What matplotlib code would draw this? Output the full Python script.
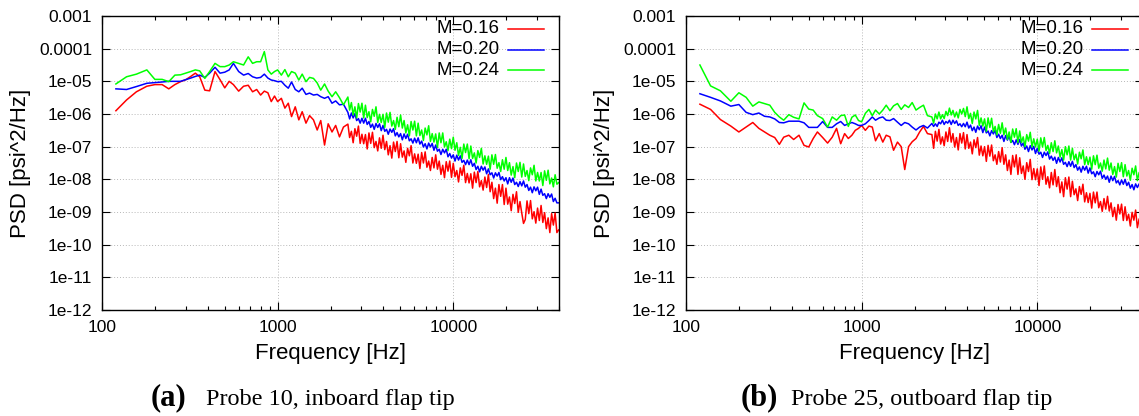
import numpy as np
import matplotlib
matplotlib.use("Agg")
import matplotlib.pyplot as plt
from matplotlib.ticker import NullLocator, LogLocator, FixedFormatter

plt.rcParams['font.family'] = ['Liberation Sans', 'DejaVu Sans']

# frequency bins [Hz], shared by both probes
freq = [120, 138, 157, 180, 200, 220, 240, 260, 280, 300,
        320, 340, 360, 385, 410, 440, 470, 500, 530, 560,
        600, 640, 680, 720, 760, 800, 840, 880, 920, 960,
        1000, 1050, 1100, 1150, 1200, 1260, 1320, 1380, 1450, 1520,
        1600, 1680, 1760, 1850, 1940, 2040, 2140, 2250, 2370,
        2512, 2570, 2630, 2692, 2754, 2818, 2884, 2951, 3020, 3090,
        3162, 3236, 3311, 3388, 3467, 3548, 3631, 3715, 3802, 3890,
        3981, 4074, 4169, 4266, 4365, 4467, 4571, 4677, 4786, 4898,
        5012, 5129, 5248, 5370, 5495, 5623, 5754, 5888, 6026, 6166,
        6310, 6457, 6607, 6761, 6918, 7079, 7244, 7413, 7586, 7762,
        7943, 8128, 8318, 8511, 8710, 8913, 9120, 9333, 9550, 9772,
        10000, 10233, 10471, 10715, 10965, 11220, 11482, 11749, 12023, 12303,
        12589, 12882, 13183, 13490, 13804, 14125, 14454, 14791, 15136, 15488,
        15849, 16218, 16596, 16982, 17378, 17783, 18197, 18621, 19055, 19498,
        19953, 20417, 20893, 21380, 21878, 22387, 22909, 23442, 23988, 24547,
        25119, 25704, 26303, 26915, 27542, 28184, 28840, 29512, 30200, 30903,
        31623, 32359, 33113, 33884, 34674, 35481, 36308, 37154, 38019, 38905,
        39811]

# log10 PSD [psi^2/Hz], probe 10 (inboard flap tip)
p10_m016 = [-5.90, -5.57, -5.32, -5.15, -5.10, -5.10, -5.23, -5.10, -5.01, -4.95,
            -4.85, -4.75, -4.86, -5.27, -5.29, -4.70, -4.95, -5.20, -5.00, -5.10,
            -5.30, -5.15, -5.12, -5.32, -5.25, -5.42, -5.30, -5.35, -5.62, -5.45,
            -5.62, -5.52, -5.82, -5.67, -6.08, -5.78, -6.18, -5.93, -6.28, -6.05,
            -6.18, -6.49, -6.20, -6.95, -6.30, -6.55, -6.35, -6.70, -6.40,
            -6.31, -6.72, -6.53, -6.88, -6.45, -6.68, -6.37, -6.90, -6.62, -6.91,
            -6.63, -7.07, -6.58, -6.90, -6.56, -7.03, -6.84, -7.13, -6.73, -7.05,
            -6.65, -7.09, -6.84, -7.25, -6.97, -7.35, -6.86, -7.15, -6.84, -7.34,
            -6.91, -7.32, -7.13, -7.48, -7.05, -7.28, -6.97, -7.50, -7.22, -7.51,
            -7.23, -7.67, -7.18, -7.50, -7.16, -7.63, -7.44, -7.73, -7.33, -7.65,
            -7.25, -7.69, -7.44, -7.85, -7.57, -7.95, -7.46, -7.75, -7.44, -7.94,
            -7.51, -7.92, -7.73, -8.08, -7.65, -7.88, -7.57, -8.10, -7.82, -8.11,
            -7.83, -8.27, -7.78, -8.10, -7.76, -8.23, -8.04, -8.33, -7.93, -8.25,
            -7.85, -8.38, -8.09, -8.59, -8.27, -8.73, -8.16, -8.52, -8.16, -8.77,
            -8.27, -8.76, -8.54, -8.96, -8.46, -8.74, -8.38, -9.01, -8.68, -9.03,
            -9.35, -9.23, -8.66, -9.05, -8.65, -9.21, -8.99, -9.34, -8.88, -9.26,
            -8.80, -9.32, -9.02, -9.51, -9.18, -9.63, -9.05, -9.40, -9.03, -9.63,
            -9.55]
p10_m020 = [-5.23, -5.25, -5.16, -5.06, -5.04, -5.02, -5.00, -5.00, -5.00, -4.95,
            -4.90, -4.85, -4.81, -4.88, -4.75, -4.57, -4.75, -4.72, -4.65, -4.45,
            -4.70, -4.81, -4.76, -4.86, -4.90, -4.88, -4.78, -4.90, -4.96, -4.98,
            -5.01, -5.00, -5.12, -5.21, -5.02, -5.25, -5.32, -5.21, -5.40, -5.36,
            -5.42, -5.40, -5.47, -5.52, -5.47, -5.67, -5.60, -5.72, -5.70,
            -5.95, -6.15, -5.97, -6.12, -5.99, -6.20, -6.14, -6.28, -6.13, -6.28,
            -6.13, -6.32, -6.23, -6.41, -6.31, -6.47, -6.29, -6.41, -6.30, -6.51,
            -6.35, -6.53, -6.47, -6.62, -6.46, -6.56, -6.45, -6.67, -6.57, -6.70,
            -6.60, -6.79, -6.61, -6.75, -6.62, -6.82, -6.76, -6.89, -6.74, -6.88,
            -6.73, -6.92, -6.83, -7.01, -6.91, -7.07, -6.89, -7.01, -6.90, -7.11,
            -6.95, -7.14, -7.08, -7.24, -7.08, -7.19, -7.08, -7.31, -7.21, -7.35,
            -7.25, -7.44, -7.26, -7.41, -7.28, -7.48, -7.42, -7.55, -7.41, -7.55,
            -7.40, -7.60, -7.51, -7.70, -7.60, -7.77, -7.60, -7.72, -7.62, -7.83,
            -7.68, -7.86, -7.80, -7.96, -7.80, -7.90, -7.79, -8.01, -7.92, -8.05,
            -7.95, -8.14, -7.95, -8.09, -7.96, -8.16, -8.09, -8.22, -8.07, -8.20,
            -8.05, -8.24, -8.16, -8.34, -8.24, -8.41, -8.23, -8.35, -8.24, -8.46,
            -8.30, -8.49, -8.44, -8.59, -8.44, -8.55, -8.45, -8.68, -8.58, -8.72,
            -8.72]
p10_m024 = [-5.08, -4.86, -4.78, -4.65, -4.94, -4.94, -5.01, -4.81, -4.80, -4.75,
            -4.70, -4.65, -4.68, -4.91, -4.70, -4.45, -4.55, -4.55, -4.50, -4.40,
            -4.45, -4.50, -4.25, -4.45, -4.40, -4.40, -4.09, -4.65, -4.78, -4.70,
            -4.65, -4.81, -4.64, -4.86, -4.70, -4.75, -4.96, -4.78, -5.01, -4.88,
            -4.91, -5.05, -5.27, -5.08, -5.30, -5.47, -5.32, -5.50, -5.72,
            -5.48, -5.88, -5.65, -6.03, -5.78, -6.12, -5.68, -5.94, -5.67, -6.12,
            -5.73, -6.11, -5.93, -6.24, -5.86, -6.07, -5.78, -6.26, -6.01, -6.26,
            -6.01, -6.41, -5.97, -6.25, -5.95, -6.37, -6.20, -6.47, -6.10, -6.39,
            -6.03, -6.43, -6.20, -6.58, -6.33, -6.67, -6.23, -6.49, -6.22, -6.67,
            -6.28, -6.66, -6.49, -6.81, -6.43, -6.64, -6.36, -6.84, -6.60, -6.86,
            -6.61, -7.02, -6.58, -6.88, -6.58, -7.01, -6.85, -7.12, -6.77, -7.06,
            -6.71, -7.11, -6.88, -7.27, -7.02, -7.36, -6.92, -7.18, -6.92, -7.37,
            -6.98, -7.36, -7.19, -7.50, -7.12, -7.33, -7.05, -7.53, -7.28, -7.54,
            -7.29, -7.69, -7.25, -7.54, -7.24, -7.66, -7.49, -7.76, -7.40, -7.69,
            -7.33, -7.73, -7.49, -7.87, -7.61, -7.95, -7.50, -7.76, -7.48, -7.93,
            -7.53, -7.91, -7.73, -8.04, -7.65, -7.86, -7.57, -8.05, -7.79, -8.05,
            -7.79, -8.19, -7.74, -8.03, -7.72, -8.14, -7.96, -8.23, -7.86, -8.15,
            -8.10]

# log10 PSD [psi^2/Hz], probe 25 (outboard flap tip)
p25_m016 = [-5.70, -5.86, -6.17, -6.37, -6.55, -6.40, -6.26, -6.44, -6.55, -6.65,
            -6.72, -6.93, -6.71, -6.65, -6.78, -6.65, -6.96, -7.01, -6.75, -6.55,
            -6.72, -6.89, -6.71, -6.44, -6.91, -6.60, -6.75, -6.65, -6.50, -6.44,
            -6.35, -6.50, -6.37, -6.40, -6.82, -6.60, -6.86, -6.65, -6.70, -7.11,
            -6.86, -7.00, -7.70, -7.00, -6.85, -6.75, -6.55, -6.38, -6.60,
            -6.63, -7.05, -6.53, -6.83, -6.47, -6.92, -6.70, -6.97, -6.55, -6.84,
            -6.42, -6.86, -6.60, -7.01, -6.72, -7.10, -6.60, -6.89, -6.57, -7.07,
            -6.63, -7.05, -6.86, -7.22, -6.79, -7.03, -6.72, -7.26, -6.98, -7.28,
            -7.00, -7.45, -6.96, -7.29, -6.95, -7.43, -7.25, -7.54, -7.15, -7.47,
            -7.03, -7.54, -7.25, -7.73, -7.41, -7.85, -7.27, -7.62, -7.25, -7.85,
            -7.34, -7.82, -7.59, -8.00, -7.49, -7.76, -7.39, -8.01, -7.67, -8.01,
            -7.68, -8.19, -7.62, -8.00, -7.59, -8.15, -7.92, -8.26, -7.79, -8.17,
            -7.70, -8.22, -7.92, -8.41, -8.08, -8.53, -7.95, -8.30, -7.93, -8.53,
            -8.06, -8.47, -8.29, -8.65, -8.22, -8.46, -8.15, -8.69, -8.41, -8.71,
            -8.43, -8.88, -8.39, -8.72, -8.39, -8.87, -8.68, -8.98, -8.59, -8.91,
            -8.52, -8.97, -8.72, -9.14, -8.86, -9.25, -8.77, -9.06, -8.76, -9.26,
            -8.84, -9.26, -9.07, -9.43, -9.01, -9.25, -8.94, -9.48, -9.21, -9.50,
            -9.45]
p25_m020 = [-5.38, -5.49, -5.60, -5.76, -5.71, -5.95, -6.02, -5.97, -6.07, -6.09,
            -6.15, -6.26, -6.27, -6.22, -6.22, -6.22, -6.27, -6.41, -6.41, -6.41,
            -6.23, -6.41, -6.41, -6.30, -6.23, -6.35, -6.30, -6.26, -6.30, -6.35,
            -6.35, -6.30, -6.20, -6.09, -6.19, -6.12, -6.09, -6.19, -6.20, -6.14,
            -6.25, -6.35, -6.26, -6.30, -6.40, -6.49, -6.40, -6.35, -6.43,
            -6.29, -6.38, -6.30, -6.38, -6.25, -6.30, -6.19, -6.32, -6.23, -6.28,
            -6.19, -6.32, -6.19, -6.29, -6.21, -6.35, -6.30, -6.39, -6.29, -6.39,
            -6.25, -6.43, -6.34, -6.51, -6.40, -6.56, -6.37, -6.48, -6.36, -6.57,
            -6.40, -6.58, -6.52, -6.67, -6.51, -6.61, -6.50, -6.72, -6.62, -6.75,
            -6.65, -6.84, -6.66, -6.80, -6.67, -6.87, -6.81, -6.94, -6.79, -6.93,
            -6.78, -6.98, -6.89, -7.08, -6.98, -7.15, -6.97, -7.10, -6.99, -7.21,
            -7.05, -7.23, -7.17, -7.33, -7.17, -7.27, -7.16, -7.38, -7.29, -7.42,
            -7.32, -7.51, -7.33, -7.47, -7.34, -7.54, -7.48, -7.61, -7.46, -7.60,
            -7.45, -7.64, -7.55, -7.72, -7.62, -7.78, -7.60, -7.72, -7.60, -7.81,
            -7.65, -7.83, -7.77, -7.92, -7.76, -7.86, -7.75, -7.97, -7.87, -8.00,
            -7.90, -8.09, -7.90, -8.04, -7.91, -8.11, -8.04, -8.17, -8.02, -8.15,
            -8.00, -8.19, -8.09, -8.27, -8.16, -8.32, -8.14, -8.25, -8.14, -8.34,
            -8.32]
p25_m024 = [-4.50, -5.14, -5.29, -5.61, -5.35, -5.49, -5.76, -5.63, -5.68, -5.73,
            -5.95, -6.09, -6.19, -6.02, -6.10, -6.15, -5.66, -5.85, -5.88, -6.05,
            -6.14, -6.40, -6.09, -6.19, -6.05, -6.03, -6.38, -6.10, -6.03, -6.20,
            -6.24, -5.98, -5.86, -6.05, -5.88, -6.00, -5.88, -5.73, -5.90, -5.75,
            -5.68, -5.86, -5.72, -5.80, -5.65, -5.88, -5.80, -5.73, -6.05,
            -6.09, -6.28, -6.00, -6.15, -5.94, -6.15, -6.02, -6.14, -5.92, -6.05,
            -5.82, -6.03, -5.89, -6.09, -5.94, -6.12, -5.86, -6.00, -5.83, -6.08,
            -5.78, -6.14, -5.98, -6.29, -5.94, -6.15, -5.89, -6.35, -6.12, -6.37,
            -6.15, -6.53, -6.12, -6.41, -6.13, -6.54, -6.38, -6.64, -6.32, -6.59,
            -6.27, -6.64, -6.43, -6.78, -6.55, -6.87, -6.46, -6.71, -6.45, -6.88,
            -6.52, -6.87, -6.70, -7.00, -6.63, -6.83, -6.56, -7.01, -6.76, -7.01,
            -6.77, -7.14, -6.73, -7.01, -6.72, -7.12, -6.96, -7.21, -6.88, -7.15,
            -6.82, -7.19, -6.98, -7.32, -7.09, -7.41, -7.00, -7.25, -6.98, -7.41,
            -7.05, -7.40, -7.23, -7.53, -7.17, -7.37, -7.10, -7.55, -7.31, -7.55,
            -7.32, -7.69, -7.28, -7.55, -7.26, -7.66, -7.50, -7.75, -7.41, -7.68,
            -7.35, -7.72, -7.50, -7.85, -7.61, -7.93, -7.51, -7.76, -7.49, -7.92,
            -7.55, -7.90, -7.73, -8.03, -7.66, -7.86, -7.59, -8.04, -7.79, -8.04,
            -7.95]

labels = ['M=0.16', 'M=0.20', 'M=0.24']
colors = ['#ff0000', '#0000ff', '#00ff00']

xticks = [100, 1000, 10000]
xtick_labels = ['100', '1000', '10000']
yticks = [1e-12, 1e-11, 1e-10, 1e-09, 1e-08, 1e-07, 1e-06, 1e-05, 1e-04, 1e-03]
ytick_labels = ['1e-12', '1e-11', '1e-10', '1e-09', '1e-08', '1e-07',
                '1e-06', '1e-05', '0.0001', '0.001']

panels = [
    ('(a)', 'Probe 10, inboard flap tip', [p10_m016, p10_m020, p10_m024]),
    ('(b)', 'Probe 25, outboard flap tip', [p25_m016, p25_m020, p25_m024]),
]

W, H = 1139, 416
fig = plt.figure(figsize=(W / 100, H / 100), dpi=100)

ax_left_px = [102, 686]
cap_px = [(151, 206), (741, 791)]

for i, (tag, title, series) in enumerate(panels):
    ax = fig.add_axes([ax_left_px[i] / W, 106 / H, 457 / W, 294 / H])
    for vals, lab, c in zip(series, labels, colors):
        assert len(vals) == len(freq)
        ax.loglog(freq, 10 ** np.array(vals), color=c, lw=1.1)

    ax.set_xlim(100, 40000)
    ax.set_ylim(1e-12, 1e-3)
    ax.set_xticks(xticks)
    ax.set_xticklabels(xtick_labels)
    ax.xaxis.set_minor_locator(LogLocator(base=10, subs=range(2, 10), numticks=20))
    ax.xaxis.set_minor_formatter(FixedFormatter([]))
    ax.set_yticks(yticks)
    ax.set_yticklabels(ytick_labels)
    ax.yaxis.set_minor_locator(NullLocator())

    ax.tick_params(which='both', direction='in', top=True, right=True,
                   width=0.8, labelsize=12.5)
    ax.tick_params(which='major', length=6)
    ax.tick_params(which='minor', length=3)
    ax.tick_params(axis='x', pad=7)
    ax.tick_params(axis='y', pad=7)
    ax.grid(True, which='major', color='#b8b8b8', linestyle=(0, (1, 2)), lw=0.7)
    for s in ax.spines.values():
        s.set_linewidth(1.0)

    ax.set_xlabel('Frequency [Hz]', fontsize=16)
    ax.xaxis.set_label_coords(0.5, -0.113)
    ax.set_ylabel('PSD [psi^2/Hz]', fontsize=16)
    ax.yaxis.set_label_coords(-0.155, 0.5)

    # gnuplot-style key: text on the left, sample line on the right
    for k, (lab, c) in enumerate(zip(labels, colors)):
        yk = [0.957, 0.886, 0.815][k]
        ax.text(0.869, yk, lab, transform=ax.transAxes, ha='right', va='center',
                fontsize=13.5)
        ax.plot([0.888, 0.967], [yk, yk], transform=ax.transAxes, color=c, lw=1.1)

    fig.text(cap_px[i][0] / W, 11 / H, tag, ha='left', va='baseline',
             family='Liberation Serif', fontweight='bold', fontsize=22)
    fig.text(cap_px[i][1] / W, 11 / H, title, ha='left', va='baseline',
             family='Liberation Serif', fontsize=17.5)

fig.savefig('out.png', dpi=100)
